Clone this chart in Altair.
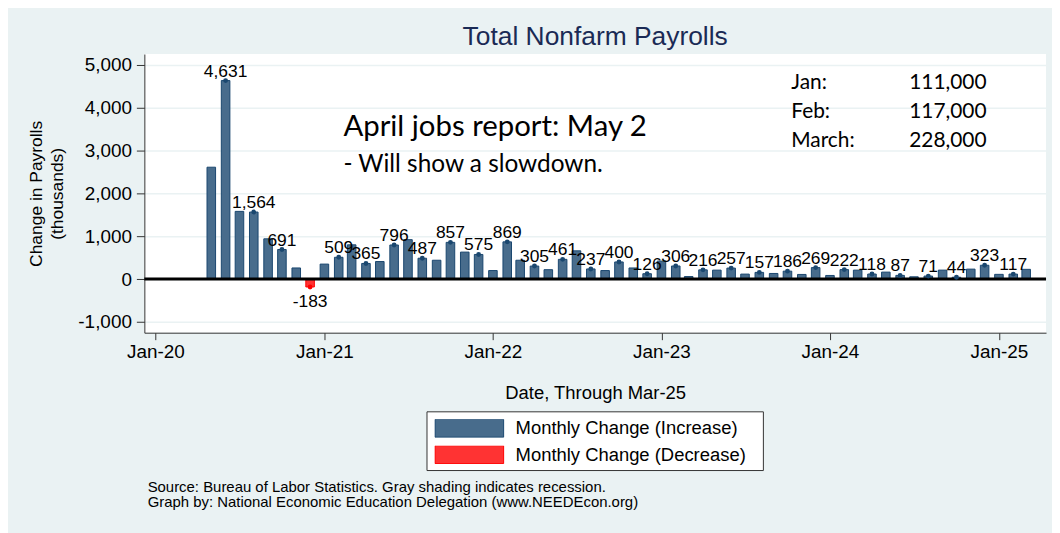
import altair as alt
import pandas as pd

INC = "Monthly Change (Increase)"
DEC = "Monthly Change (Decrease)"

months = pd.date_range("2020-05-01", "2025-03-01", freq="MS").strftime("%Y-%m-%d").tolist()

values = [
    2610, 4631, 1580, 1564, 940, 691, 260, -183,                      # 2020 May-Dec
    350, 509, 800, 365, 410, 796, 920, 487, 440, 857, 630, 575,       # 2021
    200, 869, 440, 305, 220, 461, 660, 237, 200, 400, 260, 126,       # 2022
    420, 306, 60, 216, 210, 257, 117, 157, 132, 186, 109, 269,        # 2023
    85, 222, 210, 118, 163, 87, 54, 71, 210, 44, 233, 323,            # 2024
    111, 117, 228,                                                    # 2025 Jan-Mar
]

labels = [
    "", "4,631", "", "1,564", "", "691", "", "-183",
    "", "509", "", "365", "", "796", "", "487", "", "857", "", "575",
    "", "869", "", "305", "", "461", "", "237", "", "400", "", "126",
    "", "306", "", "216", "", "257", "", "157", "", "186", "", "269",
    "", "222", "", "118", "", "87", "", "71", "", "44", "", "323",
    "", "117", "",
]

year_ticks = [2020, 2021, 2022, 2023, 2024, 2025]
y_ticks = [-1000, 0, 1000, 2000, 3000, 4000, 5000]

title_text = "Total Nonfarm Payrolls"
note_main = "April jobs report: May 2"
note_sub = "- Will show a slowdown."
box_months = ["Jan:", "Feb:", "March:"]
box_values = ["111,000", "117,000", "228,000"]
source_lines = [
    "Source: Bureau of Labor Statistics. Gray shading indicates recession.",
    "Graph by: National Economic Education Delegation (www.NEEDEcon.org)",
]

df = pd.DataFrame({"date": months, "value": values, "label": labels})
df["type"] = [INC if v >= 0 else DEC for v in values]

FONT = "Liberation Sans"
NOTE_FONT = "Lato"
BG = "#EAF2F3"

x = alt.X(
    "date:T",
    scale=alt.Scale(
        type="utc",
        nice=False,
        padding=0,
        domain=[
            alt.DateTime(year=2019, month=12, date=8, utc=True),
            alt.DateTime(year=2025, month=4, date=13, utc=True),
        ],
    ),
    axis=alt.Axis(
        values=[alt.DateTime(year=yy, month=1, date=1, utc=True) for yy in year_ticks],
        labelExpr="utcFormat(datum.value, '%b-%y')",
        tickSize=7,
        labelPadding=3,
        labelFontSize=19,
        labelFont=FONT,
        labelColor="black",
        grid=False,
        domainColor="#333",
        tickColor="#333",
        titleFontSize=18.5,
        titleFont=FONT,
        titleFontWeight="normal",
        titleColor="black",
        titleY=51,
        titleBaseline="top",
    ),
    title="Date, Through Mar-25",
)

y = alt.Y(
    "value:Q",
    scale=alt.Scale(domain=[-1250, 5250], nice=False, zero=False),
    axis=alt.Axis(
        values=y_ticks,
        labelExpr="replace(format(datum.value, ',d'), '\u2212', '-')",
        tickSize=8,
        labelPadding=5,
        labelFontSize=19,
        labelFont=FONT,
        labelColor="black",
        grid=True,
        gridColor=BG,
        gridWidth=1.5,
        domainColor="#333",
        tickColor="#333",
        titleFontSize=17.5,
        titleFont=FONT,
        titleFontWeight="normal",
        titleColor="black",
        titleLineHeight=21,
        titleX=-117,
        titleY=140,
        titleAngle=-90,
        titleBaseline="top",
        titleAlign="center",
    ),
    title=["Change in Payrolls", "(thousands)"],
)

legend = alt.Legend(
    orient="none",
    legendX=284,
    legendY=359.5,
    title=None,
    symbolType="M-1,-0.261L1,-0.261L1,0.261L-1,0.261Z",
    symbolSize=4761,
    symbolStrokeWidth=1,
    clipHeight=18,
    labelFontSize=18.5,
    labelFont=FONT,
    labelColor="black",
    labelOffset=11.5,
    labelLimit=500,
    padding=7.5,
    rowPadding=7.5,
)

base = alt.Chart(df)

bars = base.mark_bar(size=8.6, strokeWidth=1).encode(
    x=x,
    y=y,
    color=alt.Color("type:N", scale=alt.Scale(domain=[INC, DEC], range=["#486C8C", "#FF3333"]), legend=legend),
    stroke=alt.Stroke("type:N", scale=alt.Scale(domain=[INC, DEC], range=["#1A476F", "#FF0000"]), legend=legend),
)

zero = alt.Chart(pd.DataFrame({"z": [0]})).mark_rule(color="black", strokeWidth=3).encode(y=alt.Y("z:Q"))

labeled = base.transform_filter("datum.label != ''")

dots = labeled.mark_circle(size=24, opacity=1).encode(
    x="date:T",
    y="value:Q",
    color=alt.condition("datum.value >= 0", alt.value("#1A476F"), alt.value("#FF0000")),
)

pos_text = labeled.transform_filter("datum.value >= 0").mark_text(
    baseline="alphabetic", dy=-4, fontSize=17.5, font=FONT, color="black"
).encode(x="date:T", y="value:Q", text="label:N")

neg_text = labeled.transform_filter("datum.value < 0").mark_text(
    baseline="top", dy=6, fontSize=17.5, font=FONT, color="black"
).encode(x="date:T", y="value:Q", text="label:N")


def text_layer(txt, px, py, **kw):
    return alt.Chart(pd.DataFrame({"t": [txt]})).mark_text(**kw).encode(
        x=alt.value(px), y=alt.value(py), text="t:N"
    )


legend_box = alt.Chart(pd.DataFrame({"b": [1]})).mark_rect(
    fill="white", stroke="#333", strokeWidth=1
).encode(x=alt.value(284), x2=alt.value(622), y=alt.value(359.5), y2=alt.value(418.5))

title = text_layer(title_text, 453, -9.5, fontSize=26.5, font=FONT, color="#1A2A55", align="center", baseline="alphabetic")
note1 = text_layer(note_main, 200, 82.5, fontSize=29.5, font=NOTE_FONT, color="black", align="left", baseline="alphabetic")
note2 = text_layer(note_sub, 200, 118.5, fontSize=24.5, font=NOTE_FONT, color="black", align="left", baseline="alphabetic")
box1 = text_layer("\n".join(box_months), 650, 35.5, fontSize=21, font=NOTE_FONT, color="black", align="left",
                  baseline="alphabetic", lineBreak="\n", lineHeight=29)
box2 = text_layer("\n".join(box_values), 768.5, 35.5, fontSize=21, font=NOTE_FONT, color="black", align="left",
                  baseline="alphabetic", lineBreak="\n", lineHeight=29)
src = text_layer("\n".join(source_lines), 3.3, 440.5, fontSize=15, font=FONT, color="black", align="left",
                 baseline="alphabetic", lineBreak="\n", lineHeight=15)

chart = alt.layer(
    legend_box, bars, zero, dots, pos_text, neg_text, title, note1, note2, box1, box2, src
).properties(
    width=906,
    height=280,
    background=BG,
    padding={"left": 137, "top": 45, "right": 6, "bottom": 200},
    autosize=alt.AutoSizeParams(type="none"),
).configure_view(fill="white", stroke=None)

chart.save("out.html", embed_options={"renderer": "svg", "actions": False})
